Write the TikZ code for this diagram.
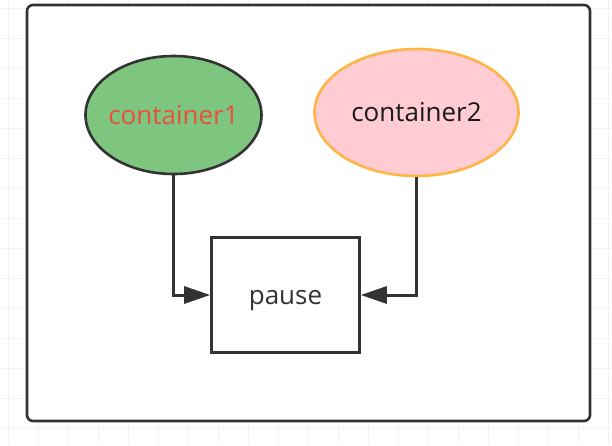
\documentclass[tikz,border=0pt]{standalone}
\usepackage{fontspec}
\setmainfont{Open Sans}
\usetikzlibrary{shapes.geometric,arrows.meta}
\definecolor{podgreen}{HTML}{7EC67F}
\definecolor{podred}{HTML}{E8503A}
\definecolor{podpink}{HTML}{FFCCD3}
\definecolor{podorange}{HTML}{FFB444}
\definecolor{podstroke}{HTML}{333333}
\definecolor{podgrid}{HTML}{F2F2F2}
\tikzset{
  pod/.style={draw=podstroke,fill=white,rounded corners=6pt,line width=2.6pt},
  container/.style={ellipse,line width=2.6pt,inner ysep=0pt,inner xsep=-10pt,
    font=\fontsize{26}{30}\selectfont},
  pausebox/.style={rectangle,draw=podstroke,fill=white,line width=2.6pt,
    inner sep=0pt,minimum width=148pt,minimum height=115pt,
    text height=18pt,text depth=0pt,
    font=\fontsize{26}{30}\selectfont,text=podstroke},
  link/.style={draw=podstroke,line width=3pt,-{Triangle[length=26pt,width=17pt]}},
  gridline/.style={draw=podgrid,line width=1pt}
}

\begin{document}
\begin{tikzpicture}[x=1pt,y=-1pt]
  \useasboundingbox (0,0) rectangle (612,445);
  \fill[white] (0,0) rectangle (612,445);
  \foreach \i in {0,...,20} \draw[gridline] (8+30*\i,0) -- (8+30*\i,445);
  \foreach \j in {0,...,14} \draw[gridline] (0,8+30*\j) -- (612,8+30*\j);
  \draw[pod] (27,5) rectangle (590,421);
  \node[container,draw=podstroke,fill=podgreen,text=podred,
    minimum width=176pt,minimum height=118pt] (c1) at (173.5,115) {container1};
  \node[container,draw=podorange,fill=podpink,text=black!90,
    minimum width=204pt,minimum height=127pt] (c2) at (416.5,112.5) {container2};
  \node[pausebox] (pause) at (285.5,295) {pause};
  \draw[link] (c1.south) |- (pause.west);
  \draw[link] (c2.south) |- (pause.east);
\end{tikzpicture}
\end{document}
